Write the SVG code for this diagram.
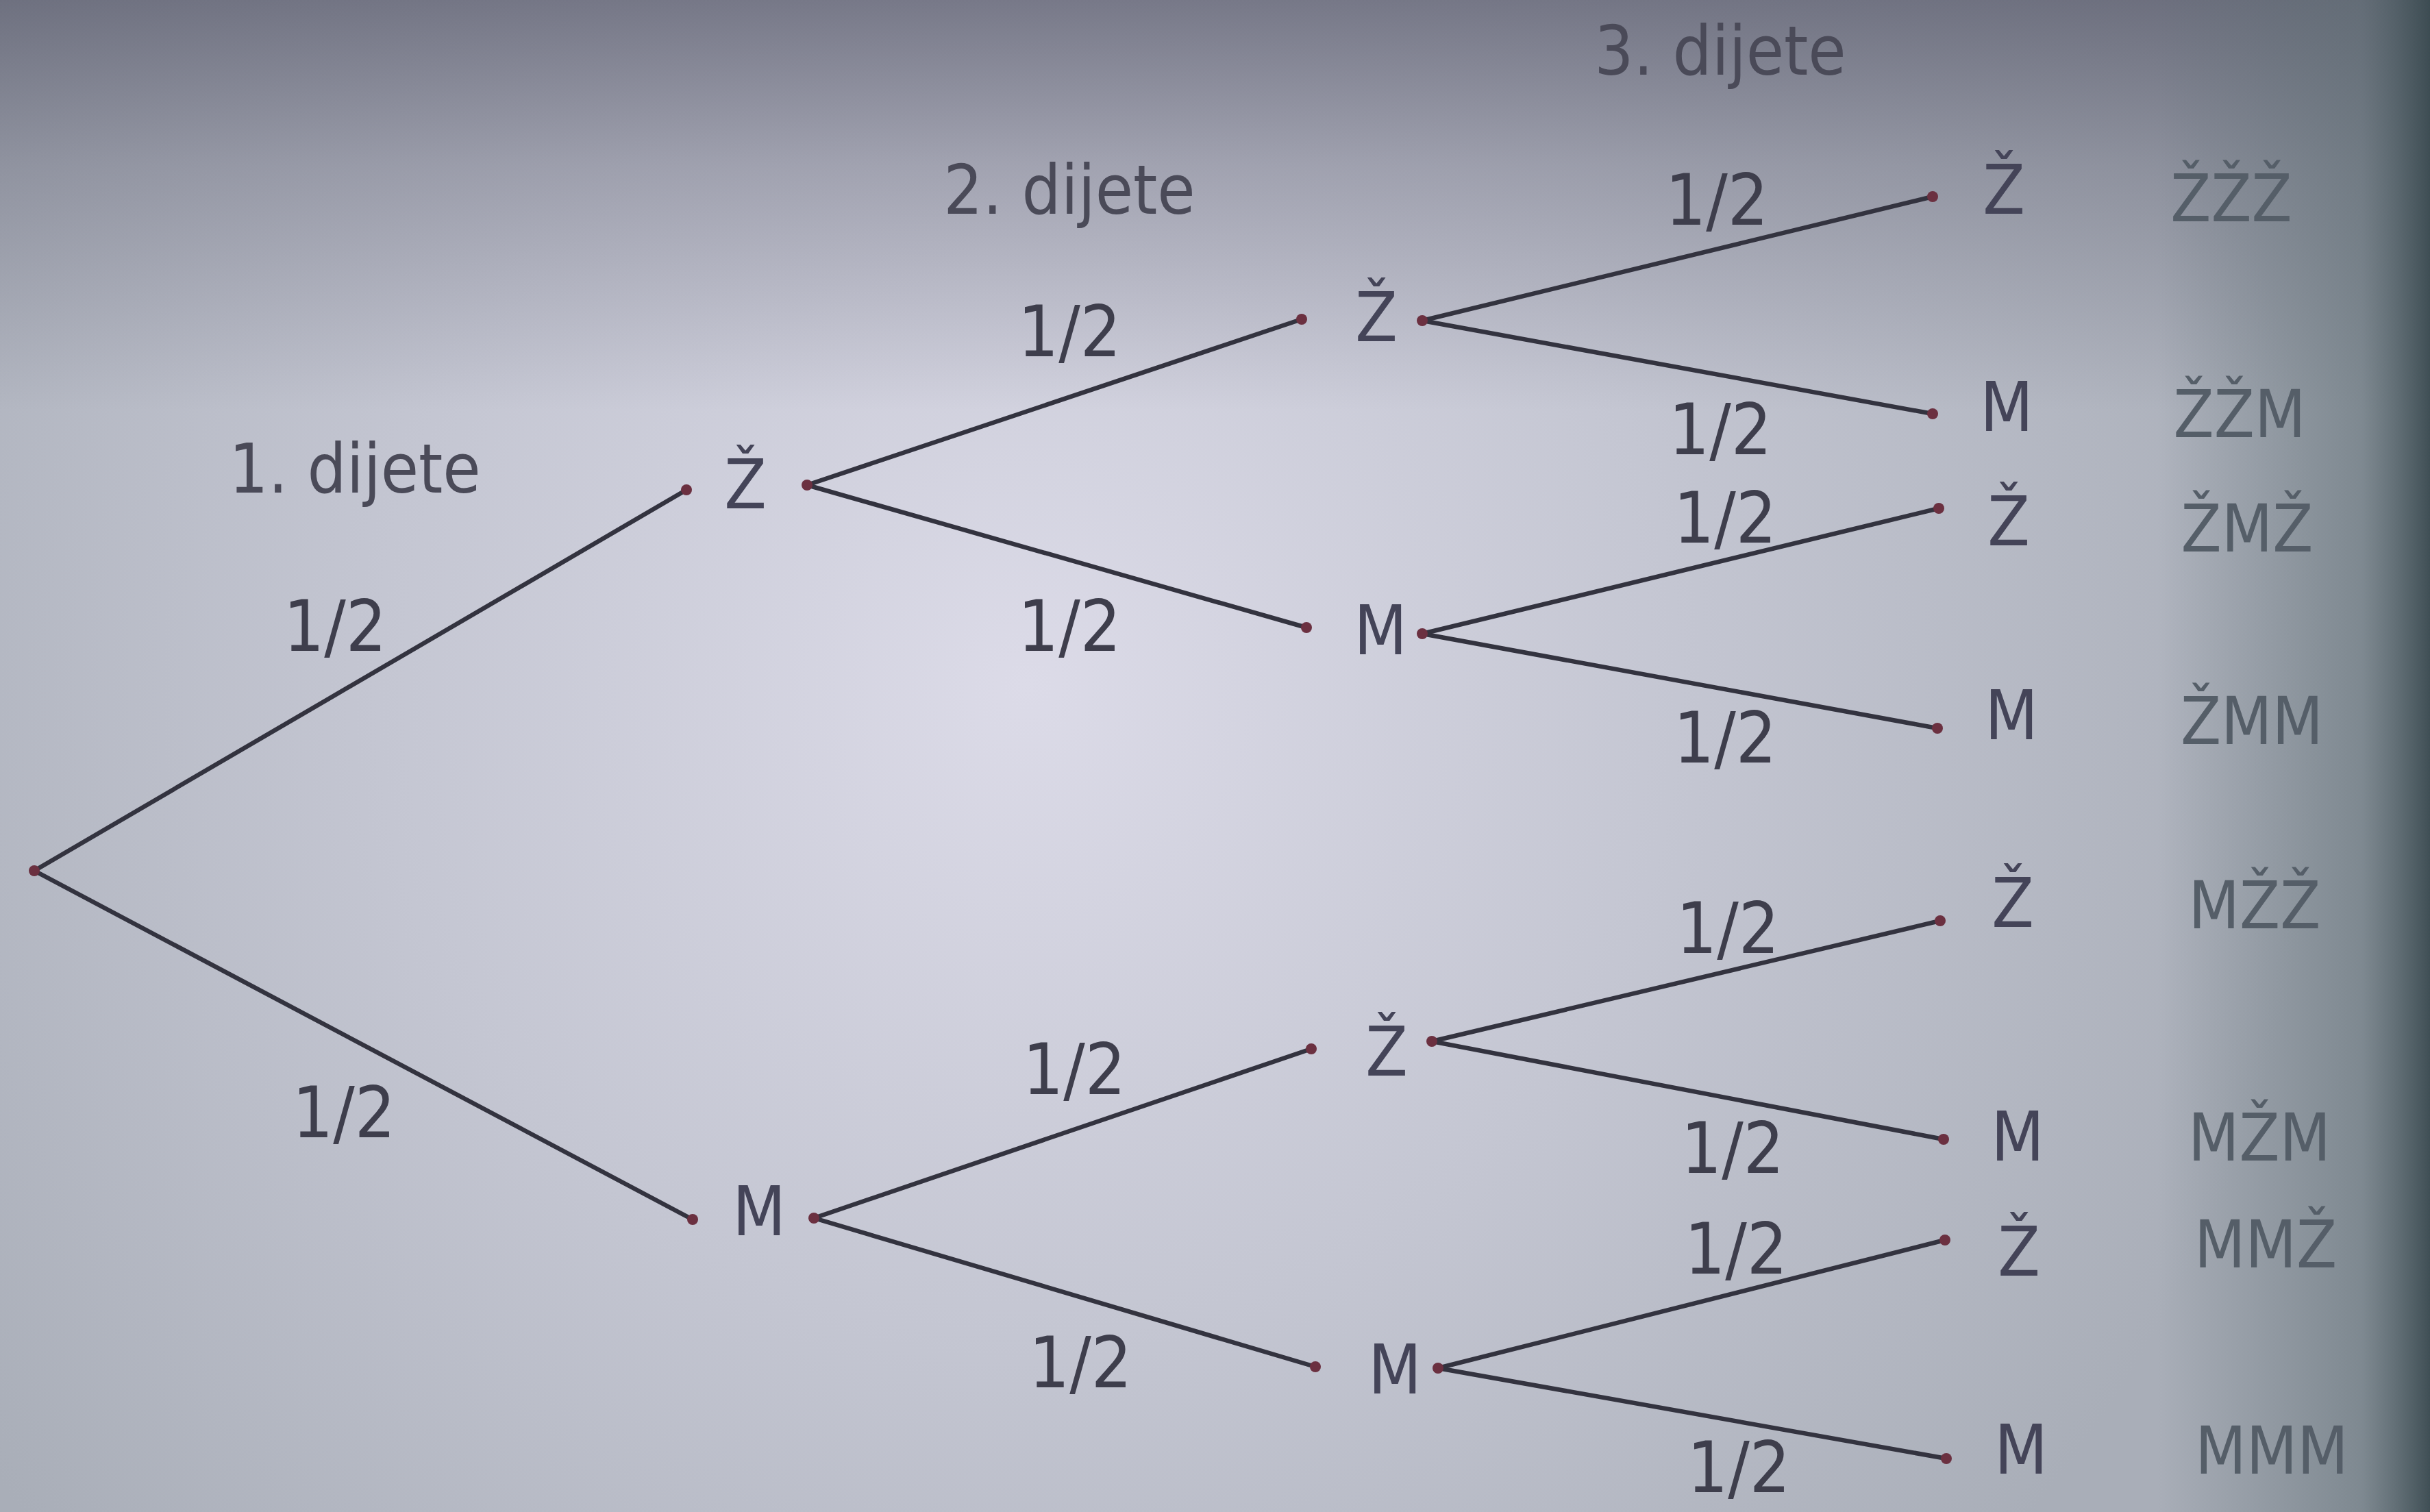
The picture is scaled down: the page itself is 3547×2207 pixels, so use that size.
<svg xmlns="http://www.w3.org/2000/svg" width="3547" height="2207" viewBox="0 0 3547 2207">
<defs>
<radialGradient id="glow" cx="1500" cy="1000" r="1900" gradientUnits="userSpaceOnUse">
<stop offset="0" stop-color="#dcdbe8"/>
<stop offset="0.5" stop-color="#c4c6d2"/>
<stop offset="1" stop-color="#a9aeb8"/>
</radialGradient>
<linearGradient id="rightEdge" x1="0" y1="0" x2="1" y2="0">
<stop offset="0" stop-color="#5b6a70" stop-opacity="0"/>
<stop offset="0.75" stop-color="#5b6a70" stop-opacity="0.55"/>
<stop offset="1" stop-color="#3a4a50" stop-opacity="0.95"/>
</linearGradient>
<linearGradient id="topEdge" x1="0" y1="0" x2="0" y2="1">
<stop offset="0" stop-color="#454658" stop-opacity="0.6"/>
<stop offset="0.4" stop-color="#454658" stop-opacity="0.3"/>
<stop offset="1" stop-color="#454658" stop-opacity="0"/>
</linearGradient>
<style>
.bg{fill:url(#glow)}
.edge{stroke:#33333f;stroke-width:6.5;stroke-linecap:round;fill:none}
.dot{fill:#6b3040}
text{font-family:"Liberation Sans Narrow","DejaVu Sans Condensed","Liberation Sans",sans-serif;text-anchor:middle}
.hdr{font-size:100px;fill:#4a4a58}
.p{font-size:104px;fill:#3e3e4c}
.n{font-size:100px;fill:#444458}
.o{font-size:96px;fill:#555e68}
</style>
</defs>
<rect class="bg" x="0" y="0" width="3547" height="2207"/>
<rect x="0" y="0" width="3547" height="600" fill="url(#topEdge)"/>
<rect x="3150" y="0" width="397" height="2207" fill="url(#rightEdge)"/>

<g id="connectors">
<line class="edge" x1="50" y1="1271" x2="1002" y2="715"/>
<line class="edge" x1="50" y1="1271" x2="1011" y2="1780"/>
<line class="edge" x1="1178" y1="708" x2="1900" y2="466"/>
<line class="edge" x1="1178" y1="708" x2="1907" y2="916"/>
<line class="edge" x1="1188" y1="1778" x2="1914" y2="1531"/>
<line class="edge" x1="1188" y1="1778" x2="1920" y2="1995"/>
<line class="edge" x1="2076" y1="468" x2="2821" y2="287"/>
<line class="edge" x1="2076" y1="468" x2="2821" y2="604"/>
<line class="edge" x1="2076" y1="925" x2="2830" y2="742"/>
<line class="edge" x1="2076" y1="925" x2="2828" y2="1063"/>
<line class="edge" x1="2090" y1="1520" x2="2832" y2="1344"/>
<line class="edge" x1="2090" y1="1520" x2="2837" y2="1663"/>
<line class="edge" x1="2099" y1="1997" x2="2839" y2="1810"/>
<line class="edge" x1="2099" y1="1997" x2="2841" y2="2129"/>
<g class="dot">
<circle cx="50" cy="1271" r="8"/>
<circle cx="1002" cy="715" r="8"/><circle cx="1011" cy="1780" r="8"/>
<circle cx="1178" cy="708" r="8"/><circle cx="1188" cy="1778" r="8"/>
<circle cx="1900" cy="466" r="8"/><circle cx="1907" cy="916" r="8"/>
<circle cx="1914" cy="1531" r="8"/><circle cx="1920" cy="1995" r="8"/>
<circle cx="2076" cy="468" r="8"/><circle cx="2076" cy="925" r="8"/>
<circle cx="2090" cy="1520" r="8"/><circle cx="2099" cy="1997" r="8"/>
<circle cx="2821" cy="287" r="8"/><circle cx="2821" cy="604" r="8"/>
<circle cx="2830" cy="742" r="8"/><circle cx="2828" cy="1063" r="8"/>
<circle cx="2832" cy="1344" r="8"/><circle cx="2837" cy="1663" r="8"/>
<circle cx="2839" cy="1810" r="8"/><circle cx="2841" cy="2129" r="8"/>
</g>
<g id="probabilities">
<text class="p" x="489" y="950">1/2</text>
<text class="p" x="502" y="1660">1/2</text>
<text class="p" x="1561" y="520">1/2</text>
<text class="p" x="1561" y="950">1/2</text>
<text class="p" x="1568" y="1597">1/2</text>
<text class="p" x="1577" y="2025">1/2</text>
<text class="p" x="2506" y="328">1/2</text>
<text class="p" x="2511" y="663">1/2</text>
<text class="p" x="2518" y="792">1/2</text>
<text class="p" x="2518" y="1113">1/2</text>
<text class="p" x="2522" y="1391">1/2</text>
<text class="p" x="2529" y="1712">1/2</text>
<text class="p" x="2534" y="1859">1/2</text>
<text class="p" x="2538" y="2178">1/2</text>
</g>
</g>

<g id="headers">
<text class="hdr" x="518" y="719">1. dijete</text>
<text class="hdr" x="1561" y="312">2. dijete</text>
<text class="hdr" x="2511" y="109">3. dijete</text>
</g>

<g id="node-1Z"><text class="n" x="1088" y="742">Ž</text></g>
<g id="node-1M"><text class="n" x="1108" y="1803">M</text></g>
<g id="node-2ZZ"><text class="n" x="2009" y="498">Ž</text></g>
<g id="node-2ZM"><text class="n" x="2015" y="955">M</text></g>
<g id="node-2MZ"><text class="n" x="2024" y="1570">Ž</text></g>
<g id="node-2MM"><text class="n" x="2036" y="2034">M</text></g>
<g id="node-3ZZZ"><text class="n" x="2925" y="312">Ž</text><text class="o" x="3257" y="323">ŽŽŽ</text></g>
<g id="node-3ZZM"><text class="n" x="2929" y="629">M</text><text class="o" x="3269" y="638">ŽŽM</text></g>
<g id="node-3ZMZ"><text class="n" x="2932" y="796">Ž</text><text class="o" x="3280" y="805">ŽMŽ</text></g>
<g id="node-3ZMM"><text class="n" x="2936" y="1079">M</text><text class="o" x="3287" y="1086">ŽMM</text></g>
<g id="node-3MZZ"><text class="n" x="2938" y="1353">Ž</text><text class="o" x="3291" y="1355">MŽŽ</text></g>
<g id="node-3MZM"><text class="n" x="2945" y="1694">M</text><text class="o" x="3298" y="1694">MŽM</text></g>
<g id="node-3MMZ"><text class="n" x="2947" y="1862">Ž</text><text class="o" x="3307" y="1850">MMŽ</text></g>
<g id="node-3MMM"><text class="n" x="2950" y="2151">M</text><text class="o" x="3316" y="2151">MMM</text></g>
</svg>
